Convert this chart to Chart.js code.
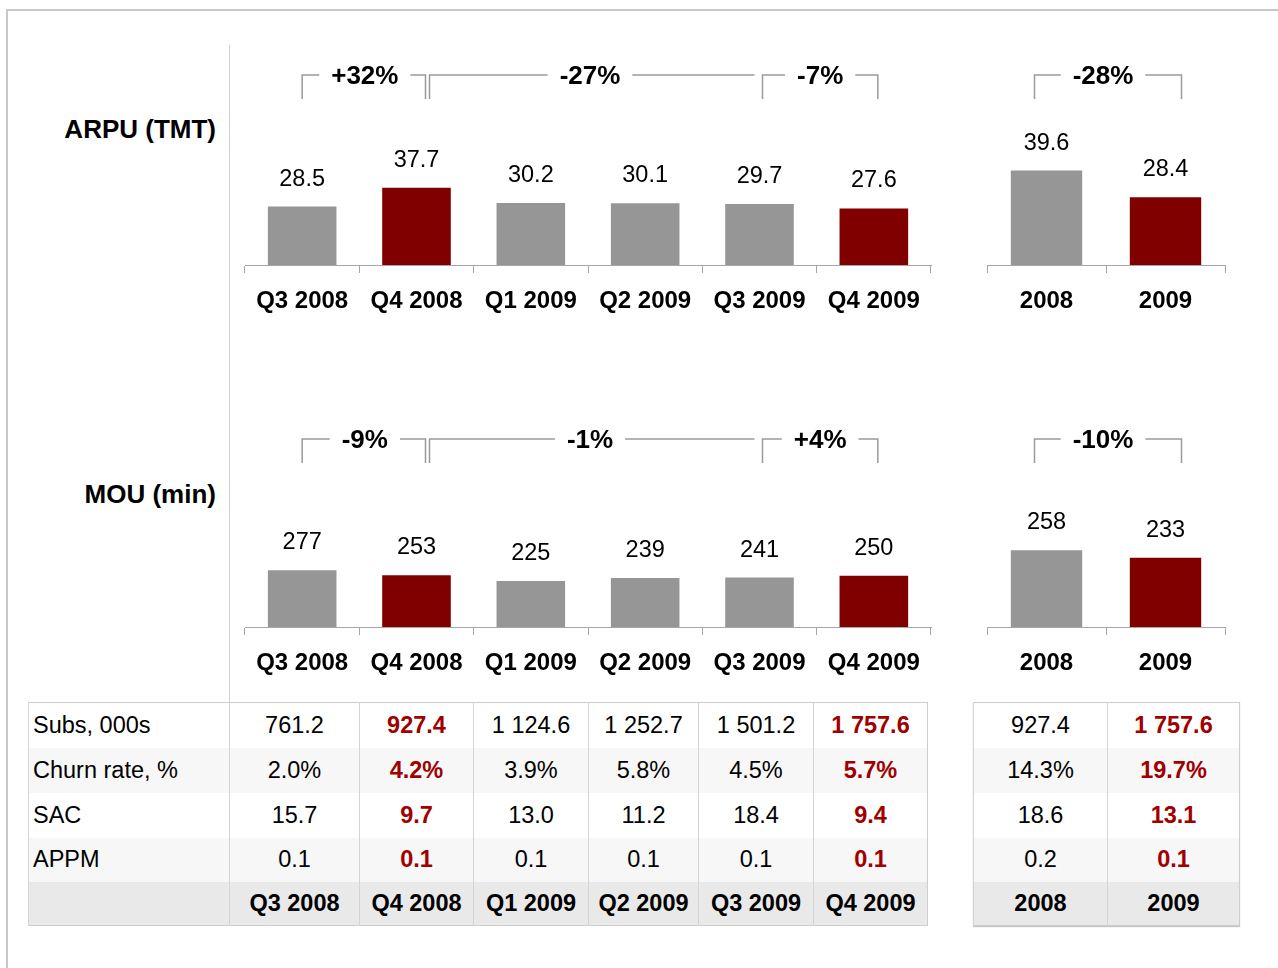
<!DOCTYPE html>
<html lang="en">
<head>
<meta charset="UTF-8">
<title>ARPU / MOU</title>
<script src="https://cdn.jsdelivr.net/npm/chart.js"></script>
<style>
  body { margin: 0; width: 1278px; height: 968px; overflow: hidden; background: #fff;
         font-family: "Liberation Sans", Arial, sans-serif; position: relative; }
  .frame { position: absolute; left: 6px; top: 9px; width: 1400px; height: 1000px; border: 2px solid #c8c8c8; }
  .divider { position: absolute; left: 229px; top: 45px; width: 1px; height: 657px; background: #d0d0d0; }
  .rowtitle { position: absolute; right: 1062px; font-weight: bold; font-size: 26px; line-height: 30px; white-space: nowrap; }
  canvas { position: absolute; }
  table { position: absolute; border-collapse: collapse; table-layout: fixed; font-size: 23.5px; border: 1px solid #cdcdcd; }
  td { text-align: center; padding: 0; border-left: 1px solid #d4d4d4; white-space: nowrap; }
  td.lbl { text-align: left; padding-left: 4px; }
  tr.alt td { background: #f7f7f7; }
  tr.head td { background: #e9e9e9; font-weight: bold; }
  td.hi { color: #a00000; font-weight: bold; }
  #tblYear { box-shadow: 0 1px 1px #c4c4c4; }
</style>
</head>
<body>
  <div class="frame"></div>
  <div class="divider"></div>
  <div class="rowtitle" style="top:114px;">ARPU (TMT)</div>
  <div class="rowtitle" style="top:479px;">MOU (min)</div>

  <canvas id="arpuQ" width="706" height="260" style="left:235px; top:55px;"></canvas>
  <canvas id="arpuY" width="258" height="260" style="left:977px; top:55px;"></canvas>
  <canvas id="mouQ" width="706" height="260" style="left:235px; top:417px;"></canvas>
  <canvas id="mouY" width="258" height="260" style="left:977px; top:417px;"></canvas>

  <table id="tblQuarter" style="left:28px; top:702px;">
    <colgroup><col style="width:201px"><col style="width:130px"><col style="width:114px"><col style="width:115px"><col style="width:110px"><col style="width:115px"><col style="width:114px"></colgroup>
    <tbody></tbody>
  </table>
  <table id="tblYear" style="left:973px; top:702px;">
    <colgroup><col style="width:134px"><col style="width:132px"></colgroup>
    <tbody></tbody>
  </table>

<script>
  // categories
  const quarters = ['Q3 2008', 'Q4 2008', 'Q1 2009', 'Q2 2009', 'Q3 2009', 'Q4 2009'];
  const years = ['2008', '2009'];

  // bar values
  const arpuQuarter = [28.5, 37.7, 30.2, 30.1, 29.7, 27.6];
  const arpuYear = [39.6, 28.4];
  const mouQuarter = [277, 253, 225, 239, 241, 250];
  const mouYear = [258, 233];

  // table values
  const rowNames = ['Subs, 000s', 'Churn rate, %', 'SAC', 'APPM'];
  const subsQuarter = [761.2, 927.4, 1124.6, 1252.7, 1501.2, 1757.6];
  const subsYear = [927.4, 1757.6];
  const churnQuarter = [2.0, 4.2, 3.9, 5.8, 4.5, 5.7];
  const churnYear = [14.3, 19.7];
  const sacQuarter = [15.7, 9.7, 13.0, 11.2, 18.4, 9.4];
  const sacYear = [18.6, 13.1];
  const appmQuarter = [0.1, 0.1, 0.1, 0.1, 0.1, 0.1];
  const appmYear = [0.2, 0.1];

  // Q4 columns are highlighted
  const highlightQuarter = [1, 5];
  const highlightYear = [1];

  const GREY = '#969696';
  const RED = '#800000';
  const AXIS = '#a6a6a6';
  const FONT = '"Liberation Sans", Arial, sans-serif';

  // brackets: compare bar "from" with bar "to"; ends placed relative to category centres
  const bracketsQuarter = [
    { from: 0, to: 1, left: [0, 0], right: [1, 9], closed: true, shift: 1 },
    { from: 1, to: 5, left: [1, 13], right: [4, -5], closed: false, shift: -2 },
    { from: 4, to: 5, left: [4, 3], right: [5, 4], closed: true, shift: 0 }
  ];
  const bracketsYear = [
    { from: 0, to: 1, left: [0, -12], right: [1, 16], closed: true, shift: -5 }
  ];

  const barLabels = {
    id: 'barLabels',
    afterDatasetsDraw(chart, args, opts) {
      const ctx = chart.ctx;
      const values = chart.data.datasets[0].data;
      ctx.save();
      ctx.font = '23.5px ' + FONT;
      ctx.fillStyle = '#000';
      ctx.textAlign = 'center';
      ctx.textBaseline = 'alphabetic';
      chart.getDatasetMeta(0).data.forEach((bar, i) => {
        ctx.fillText(values[i].toFixed(opts.decimals || 0), bar.x, bar.y - 21);
      });
      ctx.restore();
    }
  };

  const brackets = {
    id: 'brackets',
    afterDraw(chart, args, opts) {
      const items = opts.items || [];
      const xs = chart.scales.x;
      const values = chart.data.datasets[0].data;
      const ctx = chart.ctx;
      const top = opts.top, drop = 24;
      ctx.save();
      ctx.strokeStyle = '#9a9a9a';
      ctx.lineWidth = 1.5;
      ctx.font = 'bold 26px ' + FONT;
      ctx.fillStyle = '#000';
      ctx.textAlign = 'center';
      ctx.textBaseline = 'middle';
      items.forEach(b => {
        const x1 = xs.getPixelForValue(b.left[0]) + b.left[1];
        const x2 = xs.getPixelForValue(b.right[0]) + b.right[1];
        const pct = Math.round((values[b.to] / values[b.from] - 1) * 100);
        const text = (pct > 0 ? '+' : '') + pct + '%';
        const mid = (x1 + x2) / 2 + b.shift;
        const half = ctx.measureText(text).width / 2 + 12;
        ctx.beginPath();
        ctx.moveTo(x1, top + drop);
        ctx.lineTo(x1, top);
        ctx.lineTo(mid - half, top);
        ctx.moveTo(mid + half, top);
        ctx.lineTo(x2, top);
        if (b.closed) ctx.lineTo(x2, top + drop);
        ctx.stroke();
        ctx.fillText(text, mid, top + 2);
      });
      ctx.restore();
    }
  };

  function makeBars(id, labels, values, highlight, yMax, decimals, items, bracketTop) {
    return new Chart(document.getElementById(id), {
      type: 'bar',
      data: {
        labels: labels,
        datasets: [{
          data: values,
          backgroundColor: labels.map((l, i) => highlight.includes(i) ? RED : GREY),
          borderWidth: 0,
          barPercentage: 0.6,
          categoryPercentage: 1.0
        }]
      },
      options: {
        responsive: false,
        animation: false,
        layout: { padding: { left: 10, right: 10, top: 0, bottom: 0 } },
        plugins: {
          legend: { display: false },
          tooltip: { enabled: false },
          barLabels: { decimals: decimals },
          brackets: { items: items, top: bracketTop }
        },
        scales: {
          x: {
            afterFit(scale) { scale.height = 50; },
            grid: { offset: true, drawOnChartArea: false, tickLength: 8, color: AXIS, lineWidth: 1 },
            border: { display: true, color: AXIS, width: 1 },
            ticks: { color: '#000', padding: 14, font: { family: FONT, size: 24, weight: 'bold' } }
          },
          y: { display: false, min: 0, max: yMax }
        }
      },
      plugins: [barLabels, brackets]
    });
  }

  makeBars('arpuQ', quarters, arpuQuarter, highlightQuarter, 102.4, 1, bracketsQuarter, 20);
  makeBars('arpuY', years, arpuYear, highlightYear, 88, 1, bracketsYear, 20);
  makeBars('mouQ', quarters, mouQuarter, highlightQuarter, 1025, 0, bracketsQuarter, 22);
  makeBars('mouY', years, mouYear, highlightYear, 707, 0, bracketsYear, 22);

  // tables
  function group(v) {
    return v.toFixed(1).replace(/\B(?=(\d{3})+(?!\d))/g, ' ');
  }
  function fillTable(id, withNames, labels, highlight, rows) {
    const body = document.querySelector('#' + id + ' tbody');
    const heights = [45, 45, 45, 44, 44];
    let html = '';
    rows.forEach((r, ri) => {
      html += '<tr' + (ri % 2 ? ' class="alt"' : '') + ' style="height:' + heights[ri] + 'px">';
      if (withNames) html += '<td class="lbl">' + rowNames[ri] + '</td>';
      r.values.forEach((v, i) => {
        html += '<td' + (highlight.includes(i) ? ' class="hi"' : '') + '>' + r.fmt(v) + '</td>';
      });
      html += '</tr>';
    });
    html += '<tr class="head" style="height:' + heights[4] + 'px">';
    if (withNames) html += '<td></td>';
    labels.forEach(l => { html += '<td>' + l + '</td>'; });
    html += '</tr>';
    body.innerHTML = html;
  }
  const one = v => v.toFixed(1);
  const pct = v => v.toFixed(1) + '%';

  fillTable('tblQuarter', true, quarters, highlightQuarter, [
    { values: subsQuarter, fmt: group },
    { values: churnQuarter, fmt: pct },
    { values: sacQuarter, fmt: one },
    { values: appmQuarter, fmt: one }
  ]);
  fillTable('tblYear', false, years, highlightYear, [
    { values: subsYear, fmt: group },
    { values: churnYear, fmt: pct },
    { values: sacYear, fmt: one },
    { values: appmYear, fmt: one }
  ]);
</script>
</body>
</html>
